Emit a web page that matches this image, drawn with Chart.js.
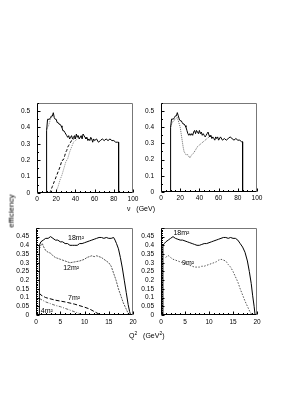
<!DOCTYPE html>
<html>
<head>
<meta charset="utf-8">
<script src="https://cdn.jsdelivr.net/npm/chart.js@4.4.1/dist/chart.umd.min.js"></script>
<style>
html, body { margin: 0; padding: 0; background: #fff; }
body { width: 294px; height: 415px; position: relative; overflow: hidden; font-family: "Liberation Sans", Arial, sans-serif; }
canvas { position: absolute; }
.lbl { position: absolute; font-size: 7px; color: #000; white-space: nowrap; line-height: 1; }
</style>
</head>
<body>
<canvas id="tl"></canvas>
<canvas id="tr"></canvas>
<canvas id="bl"></canvas>
<canvas id="br"></canvas>
<div class="lbl" style="left:127px; top:205px;">&nu;&nbsp;&nbsp;&nbsp;(GeV)</div>
<div class="lbl" style="left:129px; top:331px;">Q<sup style="font-size:5px">2</sup>&nbsp;&nbsp;&nbsp;(GeV<sup style="font-size:5px">2</sup>)</div>
<div class="lbl" style="left:-5px; top:207px; transform:rotate(-90deg); font-size:8px;">efficiency</div>
<script>
// tick labels
const nuTicks = [0, 20, 40, 60, 80, 100];
const effTicksTop = [0, 0.1, 0.2, 0.3, 0.4, 0.5];
const q2Ticks = [0, 5, 10, 15, 20];
const effTicksBottom = [0, 0.05, 0.1, 0.15, 0.2, 0.25, 0.3, 0.35, 0.4, 0.45];

// top left: efficiency vs nu
const tlSolid = [[10,0],[10,0.38],[11,0.45],[13,0.45],[14,0.46],[15,0.47],[16,0.47],[17,0.49],[18,0.46],[19,0.45],[20,0.45],[21,0.43],[22,0.43],[23,0.42],[24,0.42],[25,0.41],[26,0.40],[27,0.38],[28,0.38],[29,0.37],[30,0.36],[31,0.35],[32,0.34],[33,0.35],[34,0.33],[35,0.34],[36,0.35],[37,0.33],[38,0.34],[39,0.35],[40,0.33],[41,0.36],[42,0.34],[43,0.35],[44,0.33],[45,0.34],[46,0.35],[47,0.33],[48,0.36],[49,0.35],[50,0.34],[51,0.33],[52,0.34],[53,0.32],[54,0.33],[55,0.32],[56,0.34],[57,0.33],[58,0.31],[59,0.33],[60,0.32],[62,0.33],[64,0.31],[66,0.32],[68,0.33],[70,0.32],[72,0.33],[74,0.32],[76,0.33],[78,0.32],[80,0.32],[82,0.31],[84,0.31],[85,0.31],[85,0]];
const tlDashed = [[13,0],[14,0.01],[16,0.04],[18,0.07],[20,0.1],[22,0.13],[24,0.16],[26,0.2],[27,0.2],[28,0.21],[29,0.23],[30,0.25],[31,0.26],[32,0.28],[33,0.29],[34,0.3],[35,0.31],[36,0.32],[37,0.32],[38,0.33],[40,0.34],[42,0.35]];
const tlDotted = [[19,0],[20,0.01],[22,0.04],[24,0.08],[26,0.11],[28,0.15],[30,0.19],[32,0.21],[34,0.25],[36,0.28],[38,0.31],[40,0.32],[42,0.33],[44,0.34],[46,0.34]];
const tlDottedTop = [[10,0.39],[12,0.41],[14,0.45],[16,0.47]];

// top right
const trSolid = [[10,0],[10,0.40],[11,0.45],[13,0.45],[14,0.46],[15,0.47],[16,0.47],[17,0.49],[18,0.47],[19,0.45],[20,0.44],[21,0.44],[22,0.43],[23,0.42],[24,0.42],[25,0.41],[26,0.40],[27,0.38],[28,0.36],[29,0.35],[30,0.36],[31,0.35],[32,0.36],[33,0.35],[34,0.37],[35,0.38],[36,0.36],[37,0.38],[38,0.37],[39,0.36],[40,0.38],[41,0.36],[42,0.37],[43,0.35],[44,0.36],[45,0.35],[46,0.34],[47,0.35],[48,0.36],[49,0.37],[50,0.35],[51,0.34],[52,0.35],[53,0.33],[54,0.34],[55,0.33],[56,0.32],[57,0.34],[58,0.33],[59,0.34],[60,0.32],[62,0.34],[64,0.32],[66,0.33],[68,0.32],[70,0.33],[72,0.34],[74,0.33],[76,0.32],[78,0.33],[80,0.32],[82,0.32],[84,0.31],[85,0.31],[85,0]];
const trDotted = [[10,0.40],[11,0.42],[13,0.44],[15,0.45],[17,0.46],[18,0.44],[19,0.42],[20,0.40],[21,0.36],[22,0.32],[23,0.28],[24,0.25],[26,0.23],[28,0.23],[30,0.21],[31,0.22],[32,0.23],[34,0.24],[36,0.26],[38,0.28],[40,0.29],[42,0.30],[44,0.31],[46,0.32],[48,0.33],[50,0.34]];

// bottom left: efficiency vs Q2
const bl18 = [[0.7,0],[0.7,0.40],[1,0.42],[1.5,0.43],[2,0.44],[2.5,0.44],[3,0.45],[3.5,0.44],[4,0.43],[4.5,0.43],[5,0.42],[5.5,0.42],[6,0.41],[6.5,0.41],[7,0.40],[7.5,0.40],[8,0.40],[8.5,0.40],[9,0.41],[9.5,0.41],[10,0.415],[10.5,0.42],[11,0.425],[11.5,0.43],[12,0.435],[12.5,0.44],[13,0.445],[13.5,0.445],[14,0.44],[14.5,0.445],[15,0.44],[15.5,0.44],[16,0.445],[16.3,0.43],[16.6,0.41],[17,0.38],[17.4,0.33],[17.8,0.27],[18.2,0.2],[18.6,0.13],[19,0.06],[19.3,0.02],[19.5,0]];
const bl12 = [[0.7,0.38],[1,0.40],[1.3,0.41],[1.6,0.39],[2,0.37],[2.5,0.36],[3,0.355],[3.5,0.34],[4,0.33],[4.5,0.325],[5,0.32],[6,0.31],[7,0.30],[8,0.305],[9,0.31],[10,0.32],[10.5,0.33],[11,0.335],[11.5,0.34],[12,0.335],[12.5,0.34],[13,0.335],[13.5,0.33],[14,0.32],[14.5,0.31],[15,0.30],[15.5,0.28],[16,0.24],[16.5,0.2],[17,0.15],[17.5,0.11],[18,0.07],[18.5,0.04],[19,0.01],[19.2,0]];
const bl7 = [[0.7,0.125],[1,0.115],[2,0.1],[4,0.085],[6,0.075],[8,0.062],[10,0.045],[11,0.035],[12,0.02],[13,0.005],[13.3,0]];
const bl4 = [[0.7,0.095],[1,0.09],[2,0.075],[3,0.065],[4,0.055],[5,0.048],[6,0.038],[7,0.028],[8,0.018],[9,0.008],[9.5,0]];

// bottom right
const br18 = [[0.4,0],[0.4,0.40],[0.7,0.41],[1,0.42],[1.5,0.43],[2,0.44],[2.5,0.45],[3,0.44],[3.5,0.435],[4,0.43],[4.5,0.43],[5,0.425],[5.5,0.42],[6,0.415],[6.5,0.41],[7,0.405],[7.5,0.40],[8,0.40],[8.5,0.405],[9,0.41],[9.5,0.41],[10,0.415],[10.5,0.42],[11,0.425],[11.5,0.43],[12,0.435],[12.5,0.44],[13,0.445],[13.5,0.445],[14,0.44],[14.5,0.445],[15,0.44],[15.5,0.44],[16,0.43],[16.5,0.41],[17,0.39],[17.5,0.36],[18,0.31],[18.4,0.25],[18.8,0.18],[19.1,0.11],[19.4,0.05],[19.6,0]];
const br9 = [[1,0.33],[1.3,0.34],[1.6,0.34],[2,0.33],[2.5,0.32],[3,0.315],[3.5,0.31],[4,0.305],[4.5,0.30],[5,0.295],[5.5,0.29],[6,0.285],[6.5,0.28],[7,0.275],[7.5,0.275],[8,0.275],[8.5,0.28],[9,0.28],[9.5,0.285],[10,0.29],[10.5,0.295],[11,0.30],[11.5,0.305],[12,0.315],[12.5,0.32],[13,0.315],[13.5,0.31],[14,0.29],[14.5,0.275],[15,0.25],[15.5,0.22],[16,0.19],[16.5,0.15],[17,0.115],[17.5,0.08],[18,0.05],[18.5,0.02],[19,0]];

const tickFont = { family: '"Liberation Sans", Arial, sans-serif', size: 6.5 };

const frame = {
    id: 'frame',
    afterDatasetsDraw(chart, args, opts) {
        const ctx = chart.ctx, ca = chart.chartArea, xs = chart.scales.x, ys = chart.scales.y;
        const L = Math.round(ca.left) + 0.5, R = Math.round(ca.right) - 0.5;
        const T = Math.round(ca.top) + 0.5, B = Math.round(ca.bottom) - 0.5;
        ctx.save();
        ctx.lineWidth = 1;
        ctx.strokeStyle = '#777';
        ctx.beginPath();
        ctx.moveTo(L, T); ctx.lineTo(R, T); ctx.lineTo(R, B);
        ctx.stroke();
        ctx.strokeStyle = '#000';
        ctx.beginPath();
        ctx.moveTo(L, T); ctx.lineTo(L, B); ctx.lineTo(R, B);
        // x ticks
        for (let v = xs.min; v <= xs.max + 1e-9; v += opts.xMinor) {
            const px = Math.round(xs.getPixelForValue(v)) + 0.5;
            const major = Math.abs(v / opts.xMajor - Math.round(v / opts.xMajor)) < 1e-6;
            ctx.moveTo(px, B); ctx.lineTo(px, B - (major ? 3 : 1.5));
        }
        for (let v = ys.min; v <= ys.max + 1e-9; v += opts.yMinor) {
            const py = Math.round(ys.getPixelForValue(v)) + 0.5;
            const major = Math.abs(v / opts.yMajor - Math.round(v / opts.yMajor)) < 1e-6;
            ctx.moveTo(L, py); ctx.lineTo(L + (major ? 3 : 1.5), py);
        }
        ctx.stroke();
        ctx.fillStyle = '#000';
        ctx.font = '7px "Liberation Sans", Arial, sans-serif';
        ctx.textBaseline = 'middle';
        (opts.notes || []).forEach(n => {
            ctx.fillText(n.text, xs.getPixelForValue(n.x), ys.getPixelForValue(n.y));
        });
        ctx.restore();
    }
};

function panel(id, area, x, y, sets, notes) {
    const cv = document.getElementById(id);
    const padL = 30, padT = 5, padR = 10, padB = 13;
    const w = area.r - area.l, h = area.b - area.t;
    cv.width = padL + w + padR;
    cv.height = padT + h + padB;
    cv.style.left = (area.l - padL) + 'px';
    cv.style.top = (area.t - padT) + 'px';
    new Chart(cv, {
        type: 'line',
        data: {
            datasets: sets.map(s => ({
                data: s.data.map(p => ({x: p[0], y: p[1]})),
                borderColor: s.color,
                borderWidth: s.width || 1,
                borderDash: s.dash || [],
                pointRadius: 0,
                fill: false,
                tension: 0
            }))
        },
        options: {
            responsive: false,
            animation: false,
            devicePixelRatio: 1,
            layout: {padding: {left: 0, top: padT, right: padR, bottom: 0}},
            plugins: {
                legend: {display: false},
                tooltip: {enabled: false},
                frame: {xMinor: x.minor, xMajor: x.major, yMinor: y.minor, yMajor: y.major, notes: notes}
            },
            scales: {
                x: {
                    type: 'linear', min: x.min, max: x.max,
                    grid: {display: false, drawTicks: false}, border: {display: false},
                    afterBuildTicks: s => { s.ticks = x.ticks.map(v => ({value: v})); },
                    afterFit: s => { s.height = padB; },
                    ticks: {padding: x.pad, font: tickFont, color: '#000', maxRotation: 0, autoSkip: false, callback: v => String(v)}
                },
                y: {
                    type: 'linear', min: y.min, max: y.max,
                    grid: {display: false, drawTicks: false}, border: {display: false},
                    afterBuildTicks: s => { s.ticks = y.ticks.map(v => ({value: v})); },
                    afterFit: s => { s.width = padL; },
                    ticks: {padding: 7, font: tickFont, color: '#000', autoSkip: false, callback: v => String(v)}
                }
            }
        },
        plugins: [frame]
    });
}

const nuAxis = {min: 0, max: 100, ticks: nuTicks, minor: 5, major: 20, pad: 2};
const effTop = {min: 0, max: 0.55, ticks: effTicksTop, minor: 0.05, major: 0.1};
const q2Axis = {min: 0, max: 20, ticks: q2Ticks, minor: 1, major: 5, pad: 3};
const effBottom = {min: 0, max: 0.5, ticks: effTicksBottom, minor: 0.01, major: 0.05};

panel('tl', {l: 37, r: 133, t: 97, b: 193}, nuAxis, effTop, [
    {data: tlSolid, color: '#000'},
    {data: tlDashed, color: '#000', dash: [3, 2]},
    {data: tlDotted, color: '#888', dash: [1, 1]},
    {data: tlDottedTop, color: '#888', dash: [1, 1]}
], []);

panel('tr', {l: 161, r: 257, t: 97, b: 192}, nuAxis, effTop, [
    {data: trSolid, color: '#000'},
    {data: trDotted, color: '#666', dash: [1, 1]}
], []);

panel('bl', {l: 36, r: 133, t: 222, b: 315}, q2Axis, effBottom, [
    {data: bl18, color: '#000'},
    {data: bl12, color: '#555', dash: [2, 1]},
    {data: bl7, color: '#000', dash: [4, 2]},
    {data: bl4, color: '#666', dash: [3, 1.5, 1, 1.5]}
], [
    {text: '18m²', x: 6.6, y: 0.44},
    {text: '12m²', x: 5.6, y: 0.27},
    {text: '7m²', x: 6.6, y: 0.1},
    {text: '4m²', x: 1.0, y: 0.025}
]);

panel('br', {l: 161, r: 257, t: 222, b: 315}, q2Axis, effBottom, [
    {data: br18, color: '#000'},
    {data: br9, color: '#555', dash: [1.5, 1.5]}
], [
    {text: '18m²', x: 2.6, y: 0.47},
    {text: '9m²', x: 4.4, y: 0.3}
]);
</script>
</body>
</html>
